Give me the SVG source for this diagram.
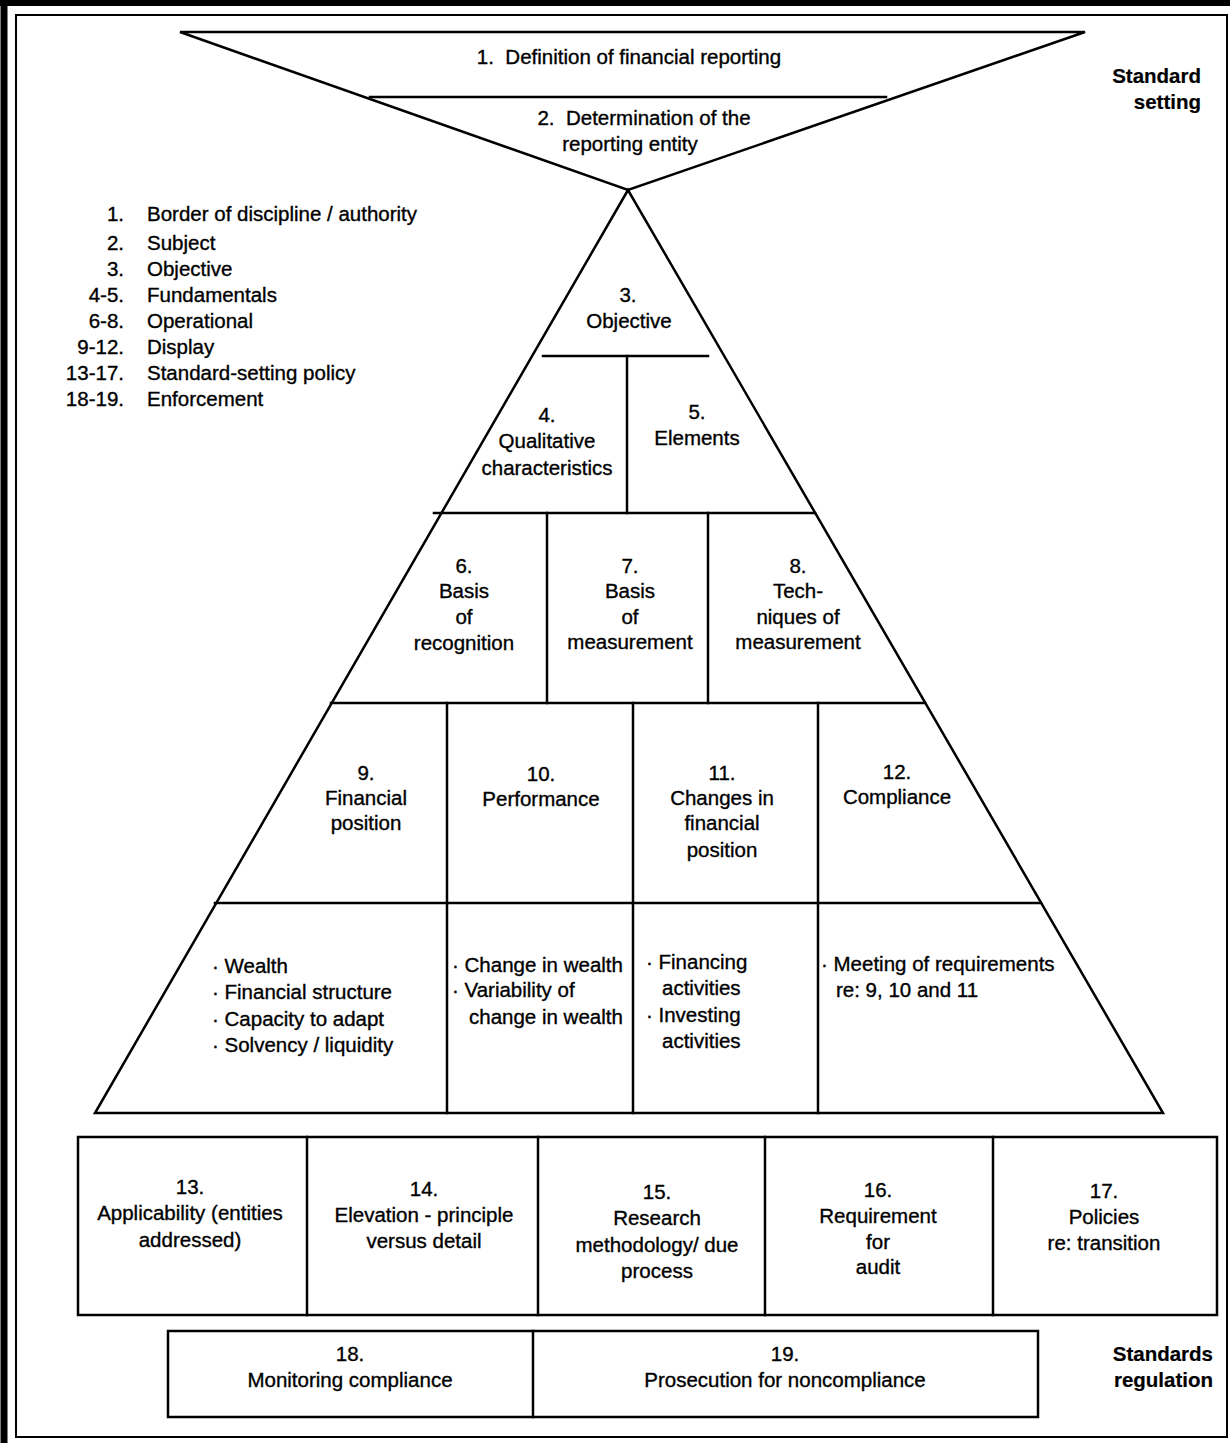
<svg xmlns="http://www.w3.org/2000/svg" width="1230" height="1443" viewBox="0 0 1230 1443">
<style>
text{font-family:"Liberation Sans",Arial,sans-serif;font-size:20.5px;fill:#000;stroke:#000;stroke-width:0.35}
.c{text-anchor:middle}
.r{text-anchor:end}
.b{font-weight:bold;font-size:20.5px;stroke-width:0.2}
.ln{stroke:#000;stroke-width:2.5;fill:none;stroke-linecap:square}
.fr{stroke:#000;fill:none}
</style>
<rect width="1230" height="1443" fill="#fff"/>
<g id="frame">
<line class="fr" x1="0" y1="3" x2="1230" y2="3" stroke-width="6"/>
<line class="fr" x1="4" y1="0" x2="4" y2="1443" stroke-width="7"/>
<rect class="fr" x="16" y="15" width="1211" height="1422" stroke-width="2"/>
</g>
<g id="lines">
<polygon class="ln" points="180,32 1085,32 628,190"/>
<line class="ln" x1="370" y1="97" x2="886" y2="97"/>
<polygon class="ln" points="628,190 95,1113 1163,1113"/>
<line class="ln" x1="543" y1="356" x2="708" y2="356"/>
<line class="ln" x1="627" y1="356" x2="627" y2="513"/>
<line class="ln" x1="434" y1="513" x2="815" y2="513"/>
<line class="ln" x1="547" y1="513" x2="547" y2="703"/>
<line class="ln" x1="708" y1="513" x2="708" y2="703"/>
<line class="ln" x1="331" y1="703" x2="925" y2="703"/>
<line class="ln" x1="447" y1="703" x2="447" y2="1113"/>
<line class="ln" x1="633" y1="703" x2="633" y2="1113"/>
<line class="ln" x1="818" y1="703" x2="818" y2="1113"/>
<line class="ln" x1="215" y1="903" x2="1041" y2="903"/>
<rect class="ln" x="78" y="1137" width="1139" height="178"/>
<line class="ln" x1="307" y1="1137" x2="307" y2="1315"/>
<line class="ln" x1="538" y1="1137" x2="538" y2="1315"/>
<line class="ln" x1="765" y1="1137" x2="765" y2="1315"/>
<line class="ln" x1="993" y1="1137" x2="993" y2="1315"/>
<rect class="ln" x="168" y="1331" width="870" height="86"/>
<line class="ln" x1="533" y1="1331" x2="533" y2="1417"/>
</g>
<g id="labels" transform="translate(0,1.5)">
<g id="n1"><text class="c" x="629" y="62">1.&#160; Definition of financial reporting</text></g>
<g id="n2"><text class="c" x="644" y="123">2.&#160; Determination of the</text><text class="c" x="630" y="149">reporting entity</text></g>
<g id="label-standard-setting"><text class="r b" x="1201" y="81">Standard</text><text class="r b" x="1201" y="107">setting</text></g>
<g id="legend">
<text class="r" x="124" y="219">1.</text><text x="147" y="219">Border of discipline / authority</text>
<text class="r" x="124" y="248">2.</text><text x="147" y="248">Subject</text>
<text class="r" x="124" y="274">3.</text><text x="147" y="274">Objective</text>
<text class="r" x="124" y="300">4-5.</text><text x="147" y="300">Fundamentals</text>
<text class="r" x="124" y="326">6-8.</text><text x="147" y="326">Operational</text>
<text class="r" x="124" y="352">9-12.</text><text x="147" y="352">Display</text>
<text class="r" x="124" y="378">13-17.</text><text x="147" y="378">Standard-setting policy</text>
<text class="r" x="124" y="404">18-19.</text><text x="147" y="404">Enforcement</text>
</g>
<g id="n3"><text class="c" x="628" y="300">3.</text><text class="c" x="629" y="326">Objective</text></g>
<g id="n4"><text class="c" x="547" y="420">4.</text><text class="c" x="547" y="446">Qualitative</text><text class="c" x="547" y="473">characteristics</text></g>
<g id="n5"><text class="c" x="697" y="417">5.</text><text class="c" x="697" y="443">Elements</text></g>
<g id="n6"><text class="c" x="464" y="571">6.</text><text class="c" x="464" y="596">Basis</text><text class="c" x="464" y="622">of</text><text class="c" x="464" y="648">recognition</text></g>
<g id="n7"><text class="c" x="630" y="571">7.</text><text class="c" x="630" y="596">Basis</text><text class="c" x="630" y="622">of</text><text class="c" x="630" y="647">measurement</text></g>
<g id="n8"><text class="c" x="798" y="571">8.</text><text class="c" x="798" y="596">Tech-</text><text class="c" x="798" y="622">niques of</text><text class="c" x="798" y="647">measurement</text></g>
<g id="n9"><text class="c" x="366" y="778">9.</text><text class="c" x="366" y="803">Financial</text><text class="c" x="366" y="828">position</text>
<text x="212" y="971">· Wealth</text><text x="212" y="997">· Financial structure</text><text x="212" y="1024">· Capacity to adapt</text><text x="212" y="1050">· Solvency / liquidity</text></g>
<g id="n10"><text class="c" x="541" y="779">10.</text><text class="c" x="541" y="804">Performance</text>
<text x="452" y="970">· Change in wealth</text><text x="452" y="995">· Variability of</text><text x="469" y="1022">change in wealth</text></g>
<g id="n11"><text class="c" x="722" y="778">11.</text><text class="c" x="722" y="803">Changes in</text><text class="c" x="722" y="828">financial</text><text class="c" x="722" y="855">position</text>
<text x="646" y="967">· Financing</text><text x="662" y="993">activities</text><text x="646" y="1020">· Investing</text><text x="662" y="1046">activities</text></g>
<g id="n12"><text class="c" x="897" y="777">12.</text><text class="c" x="897" y="802">Compliance</text>
<text x="821" y="969">· Meeting of requirements</text><text x="836" y="995">re: 9, 10 and 11</text></g>
<g id="n13"><text class="c" x="190" y="1192">13.</text><text class="c" x="190" y="1218">Applicability (entities</text><text class="c" x="190" y="1245">addressed)</text></g>
<g id="n14"><text class="c" x="424" y="1194">14.</text><text class="c" x="424" y="1220">Elevation - principle</text><text class="c" x="424" y="1246">versus detail</text></g>
<g id="n15"><text class="c" x="657" y="1197">15.</text><text class="c" x="657" y="1223">Research</text><text class="c" x="657" y="1250">methodology/ due</text><text class="c" x="657" y="1276">process</text></g>
<g id="n16"><text class="c" x="878" y="1195">16.</text><text class="c" x="878" y="1221">Requirement</text><text class="c" x="878" y="1247">for</text><text class="c" x="878" y="1272">audit</text></g>
<g id="n17"><text class="c" x="1104" y="1196">17.</text><text class="c" x="1104" y="1222">Policies</text><text class="c" x="1104" y="1248">re: transition</text></g>
<g id="n18"><text class="c" x="350" y="1359">18.</text><text class="c" x="350" y="1385">Monitoring compliance</text></g>
<g id="n19"><text class="c" x="785" y="1359">19.</text><text class="c" x="785" y="1385">Prosecution for noncompliance</text></g>
<g id="label-standards-regulation"><text class="r b" x="1213" y="1359">Standards</text><text class="r b" x="1213" y="1385">regulation</text></g>
</g>
</svg>
